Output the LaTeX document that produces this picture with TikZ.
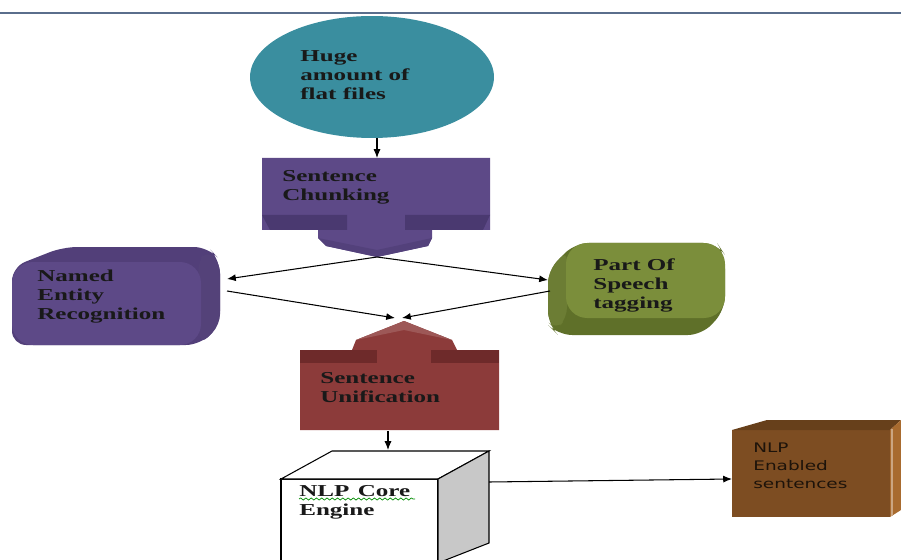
\documentclass[tikz,border=0pt]{standalone}
\usepackage{fontspec}
\usetikzlibrary{arrows.meta,shapes.geometric,decorations.pathmorphing}
\newfontfamily\boxfont{Liberation Serif}[FakeStretch=1.5]
\newfontfamily\notefont{DejaVu Sans}[FakeStretch=1.4]
\definecolor{rulecol}{HTML}{5A6E8C}
\definecolor{filecol}{HTML}{3A8E9F}
\definecolor{chunkcol}{HTML}{5D4987}
\definecolor{chunkdark}{HTML}{4A3970}
\definecolor{poscol}{HTML}{7B8E3B}
\definecolor{posdark}{HTML}{5F7029}
\definecolor{unifycol}{HTML}{8C3B3A}
\definecolor{unifydark}{HTML}{6E2A2A}
\definecolor{cubeside}{HTML}{C8C8C8}
\definecolor{resultcol}{HTML}{7D4D22}
\definecolor{resulttop}{HTML}{67401B}
\definecolor{resultside}{HTML}{A86B2F}

\begin{document}
\begin{tikzpicture}[x=0.02cm,y=-0.02cm,
  lbl/.style={anchor=north west,inner sep=0pt,align=left,text=black!90,
    font=\boxfont\bfseries\fontsize{9.5}{10.8}\selectfont},
  note/.style={anchor=north west,inner sep=0pt,align=left,text=black!85!brown,
    font=\notefont\fontsize{7.5}{10.2}\selectfont},
  flow/.style={-{Latex[length=5pt,width=4pt]},line width=0.6pt}]
		\useasboundingbox (0,0) rectangle (901,560);
		\draw[rulecol,line width=0.8pt] (0,13) -- (901,13);

		% flat files
		\node[ellipse,fill=filecol,inner sep=0pt,minimum width=4.88cm,minimum height=2.44cm] (files) at (372,77) {};
		\node[lbl] (filestext) at (300,50) {Huge\\amount of\\flat files};

		% sentence chunking
		\fill[chunkcol] (262,158) -- (490,158) -- (490,230) -- (432,230) -- (432,238) -- (428,246) -- (377,257)
			-- (326,246) -- (318,238) -- (318,230) -- (262,230) -- cycle;
		\fill[chunkdark] (262,215) -- (347,215) -- (347,230) -- (270,230) -- cycle;
		\fill[chunkdark] (405,215) -- (490,215) -- (483,230) -- (405,230) -- cycle;
		\fill[chunkdark!50!chunkcol] (326,246) -- (377,257) -- (428,246) -- (432,238) -- (377,250) -- (318,238) -- cycle;
		\node[lbl] (chunk) at (282,170) {Sentence\\Chunking};

		% named entity recognition
		\fill[chunkdark!60!chunkcol,rounded corners=8] (12,267) -- (63,247) -- (208,247) -- (220,260) -- (220,325)
			-- (200,345) -- (12,345) -- cycle;
		\fill[chunkcol!90!black,rounded corners=6] (198,262) -- (206,250) -- (220,262) -- (220,325)
			-- (200,345) -- cycle;
		\fill[chunkcol,rounded corners=12] (12,262) rectangle (201,345);
		\node[lbl] (ner) at (37,270) {Named\\Entity\\Recognition};

		% part of speech
		\fill[posdark,rounded corners=8] (575,243) -- (717,243) -- (725,255) -- (725,310) -- (702,335) -- (558,335)
			-- (548,325) -- (548,270) -- cycle;
		\fill[poscol!88!black,rounded corners=6] (548,272) -- (567,250) -- (567,318) -- (556,330) -- (548,322) -- cycle;
		\fill[poscol,rounded corners=12] (566,243) rectangle (725,318);
		\node[lbl] (pos) at (593,258) {Part Of\\Speech\\tagging};

		% sentence unification
		\fill[unifycol] (300,350) -- (352,350) -- (356,340) -- (404,321) -- (452,340) -- (457,350)
			-- (499,350) -- (499,430) -- (300,430) -- cycle;
		\fill[unifycol!85!white] (356,340) -- (404,321) -- (452,340) -- (404,330) -- cycle;
		\fill[unifydark] (300,350) rectangle (377,363);
		\fill[unifydark] (431,350) rectangle (499,363);
		\node[lbl] (unify) at (320,372) {Sentence\\Unification};

		% core engine
		\filldraw[fill=white,line width=0.6pt] (281,563) -- (281,479) -- (438,479) -- (438,563);
		\filldraw[fill=white,line width=0.6pt] (281,479) -- (332,451) -- (489,451) -- (438,479) -- cycle;
		\filldraw[fill=cubeside,line width=0.6pt] (438,479) -- (489,451) -- (489,543) -- (438,563) -- cycle;
		\node[lbl] (engine) at (299,485) {NLP\enspace Core\\Engine};
		\draw[green!55!black,line width=0.4pt,decorate,decoration={snake,amplitude=0.6pt,segment length=3pt}]
			(299,499) -- (415,499);

		% enabled sentences
		\fill[resultcol] (732,430) rectangle (890,517);
		\fill[resulttop] (732,430) -- (767,420) -- (901,420) -- (890,430) -- cycle;
		\fill[resultside] (890,430) -- (901,420) -- (901,510) -- (890,517) -- cycle;
		\draw[resultside!60!white,line width=0.8pt] (892,429) -- (892,516);
		\node[note] (result) at (753,443) {NLP\\Enabled\\sentences};

		% connectors
		\coordinate (files out) at (377,138);
		\coordinate (chunk in) at (377,158);
		\coordinate (chunk out) at (377,257);
		\coordinate (ner in) at (227,279);
		\coordinate (ner out) at (227,291);
		\coordinate (pos in) at (548,280);
		\coordinate (pos out) at (550,291);
		\coordinate (unify left) at (395,318);
		\coordinate (unify right) at (402,318);
		\coordinate (unify out) at (388,431);
		\coordinate (engine in) at (388,450);
		\coordinate (engine out) at (489,482);
		\coordinate (result in) at (732,479);
		\draw[flow] (files out) -- (chunk in);
		\draw[flow] (chunk out) -- (ner in);
		\draw[flow] (chunk out) -- (pos in);
		\draw[flow] (ner out) -- (unify left);
		\draw[flow] (pos out) -- (unify right);
		\draw[flow] (unify out) -- (engine in);
		\draw[flow] (engine out) -- (result in);
\end{tikzpicture}
\end{document}
